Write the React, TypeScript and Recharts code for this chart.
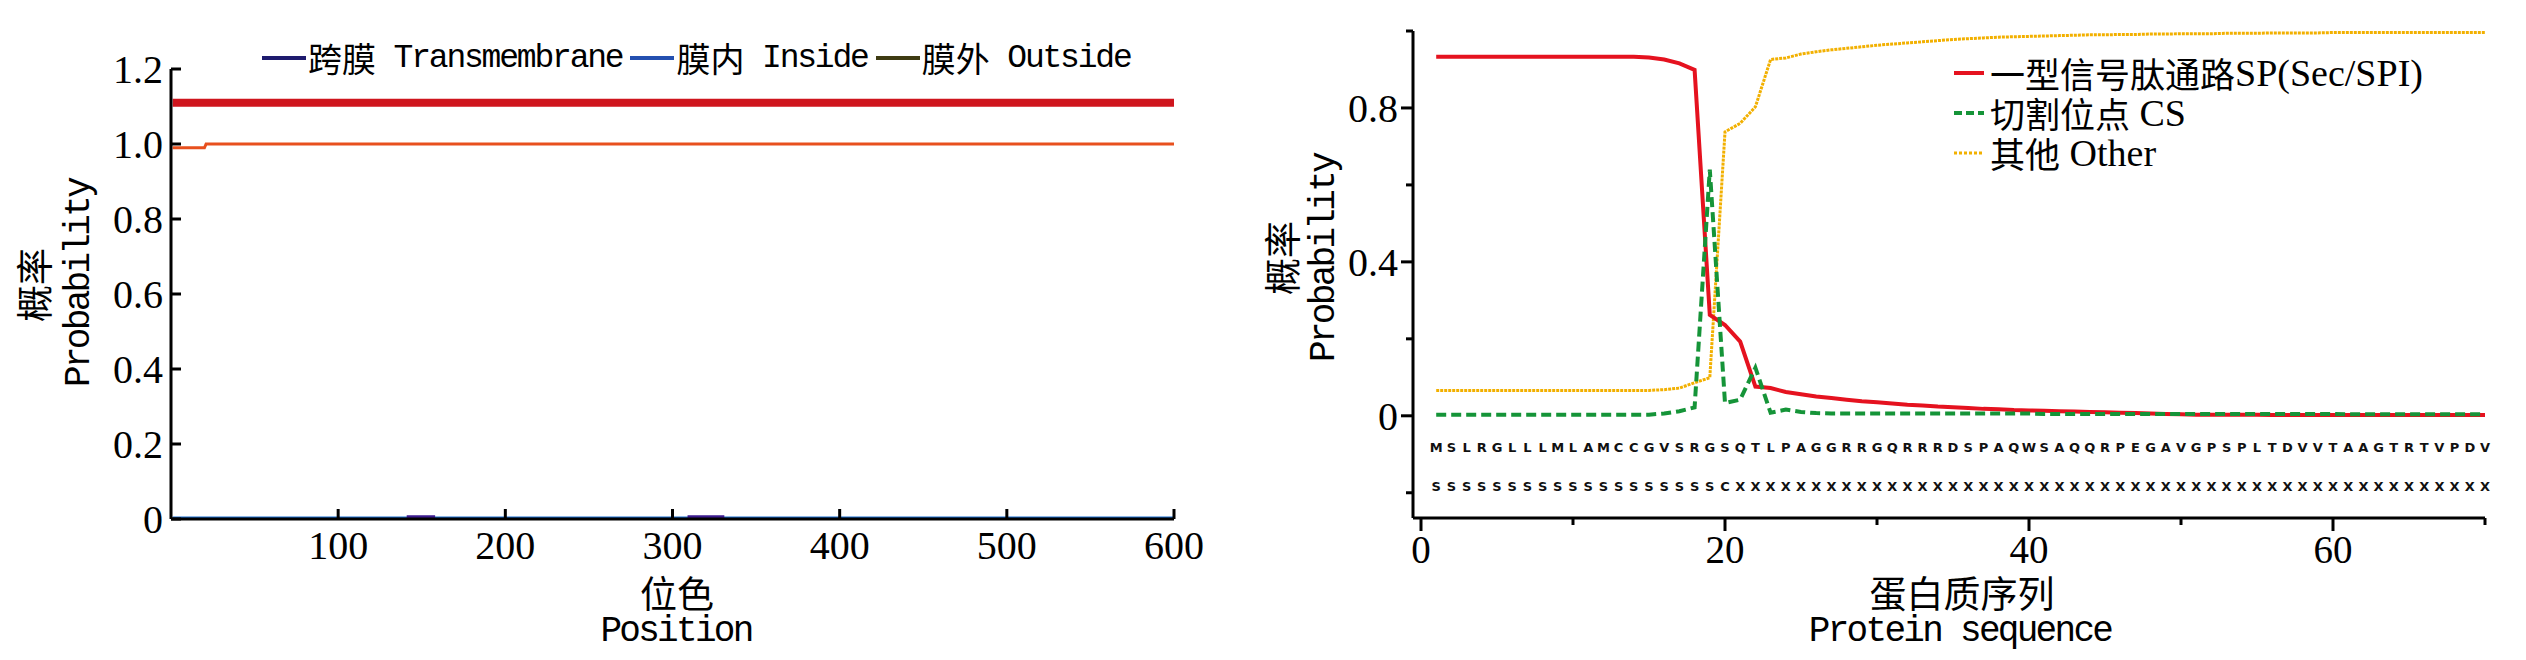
import { ComposedChart, Line, LineChart, XAxis, YAxis } from "recharts";

// left panel: topology probabilities, breakpoints
const TOP_BAR_POS = [1, 600];
const TOP_BAR_VAL = [1.11, 1.11];
const OUTSIDE_POS = [1, 20, 21, 600];
const OUTSIDE_VAL = [0.99, 0.99, 1.0, 1.0];
const INSIDE_POS = [1, 600];
const INSIDE_VAL = [0.004, 0.004];
const TM_POS = [141, 158, 230, 309, 331];
const TM_VAL = [0.006, 0.006, null, 0.006, 0.006];
const LEFT_X_TICKS = [100, 200, 300, 400, 500, 600];
const LEFT_Y_TICKS = [0, 0.2, 0.4, 0.6, 0.8, 1.0, 1.2];

const LEFT_LEGEND = [
  { cn: "跨膜", en: "Transmembrane", color: "#1e1b6e" },
  { cn: "膜内", en: "Inside", color: "#2450b0" },
  { cn: "膜外", en: "Outside", color: "#3e3b12" },
];

// right panel: signal peptide prediction per residue
const SEQUENCE = "MSLRGLLLMLAMCCGVSRGSQTLPAGGRRGQRRRDSPAQWSAQQRPEGAVGPSPLTDVVTAAGTRTVPDV".split("");
const SEQ_LABELS = ("SSSSSSSSSSSSSSSSSSS" + "C" + "XXXXXXXXXX" + "XXXXXXXXXX" + "XXXXXXXXXX" + "XXXXXXXXXX" + "XXXXXXXXXX").split("");

const SP = [
  0.933, 0.933, 0.933, 0.933, 0.933, 0.933, 0.933, 0.933, 0.933, 0.933,
  0.933, 0.933, 0.933, 0.933, 0.931, 0.926, 0.916, 0.899, 0.262, 0.236,
  0.193, 0.076, 0.072, 0.062, 0.056, 0.05, 0.046, 0.042, 0.038, 0.035,
  0.032, 0.029, 0.027, 0.024, 0.022, 0.02, 0.018, 0.017, 0.015, 0.014,
  0.013, 0.012, 0.011, 0.01, 0.009, 0.008, 0.007, 0.006, 0.005, 0.004,
  0.003, 0.003, 0.003, 0.003, 0.003, 0.002, 0.002, 0.002, 0.002, 0.002,
  0.002, 0.002, 0.002, 0.002, 0.002, 0.002, 0.002, 0.002, 0.002, 0.002,
];
const CS = [
  0.003, 0.003, 0.003, 0.003, 0.003, 0.003, 0.003, 0.003, 0.003, 0.003,
  0.003, 0.003, 0.003, 0.003, 0.003, 0.006, 0.012, 0.022, 0.64, 0.033,
  0.042, 0.125, 0.008, 0.016, 0.01, 0.007, 0.006, 0.006, 0.006, 0.006,
  0.006, 0.006, 0.006, 0.006, 0.006, 0.006, 0.006, 0.006, 0.006, 0.006,
  0.005, 0.005, 0.005, 0.005, 0.005, 0.005, 0.005, 0.005, 0.005, 0.005,
  0.005, 0.005, 0.005, 0.005, 0.005, 0.005, 0.005, 0.005, 0.005, 0.005,
  0.004, 0.004, 0.004, 0.004, 0.004, 0.004, 0.004, 0.004, 0.004, 0.004,
];
const OTHER = [
  0.066, 0.066, 0.066, 0.066, 0.066, 0.066, 0.066, 0.066, 0.066, 0.066,
  0.066, 0.066, 0.066, 0.066, 0.066, 0.068, 0.072, 0.086, 0.099, 0.738,
  0.76, 0.803, 0.926, 0.93, 0.94, 0.946, 0.951, 0.955, 0.959, 0.963,
  0.966, 0.969, 0.972, 0.975, 0.978, 0.98, 0.982, 0.984, 0.985, 0.986,
  0.987, 0.988, 0.989, 0.99, 0.99, 0.991, 0.991, 0.992, 0.992, 0.993,
  0.993, 0.993, 0.994, 0.994, 0.994, 0.995, 0.995, 0.995, 0.995, 0.996,
  0.996, 0.996, 0.996, 0.996, 0.996, 0.996, 0.996, 0.996, 0.996, 0.996,
];
const RIGHT_X_TICKS = [0, 10, 20, 30, 40, 50, 60, 70];
const RIGHT_X_LABELED = [0, 20, 40, 60];
const RIGHT_Y_TICKS = [-0.2, 0, 0.2, 0.4, 0.6, 0.8, 1.0];
const RIGHT_Y_LABELED = [0, 0.4, 0.8];

const RIGHT_LEGEND = [
  { cn: "一型信号肽通路", en: "SP(Sec/SPI)", color: "#e5121f", dash: "", width: 4 },
  { cn: "切割位点", en: " CS", color: "#159438", dash: "8 4", width: 4 },
  { cn: "其他", en: " Other", color: "#f2b000", dash: "3 2", width: 3 },
];

// where the two sequence rows sit, in y units of the right panel
const SEQ_ROW_1 = -0.083;
const SEQ_ROW_2 = -0.184;

const SERIF = '"Liberation Serif", "Times New Roman", serif';
const MONO = '"Liberation Mono", "DejaVu Sans Mono", monospace';
const CJK = '"Noto Sans CJK SC", sans-serif';

const pts = (xs: number[], ys: (number | null)[]) => xs.map((x, i) => ({ pos: x, v: ys[i] }));

const rightData = SEQUENCE.map((aa, i) => ({
  pos: i + 1,
  sp: SP[i],
  cs: CS[i],
  other: OTHER[i],
  aa,
  lab: SEQ_LABELS[i],
}));

const axisLine = { stroke: "#000", strokeWidth: 3 };

function LeftXTick({ x, y, payload }: any) {
  return (
    <g>
      <line x1={x} x2={x} y1={y} y2={y - 10} stroke="#000" strokeWidth={3} />
      <text x={x} y={y + 40} textAnchor="middle" fontFamily={SERIF} fontSize={40} fill="#000">
        {payload.value}
      </text>
    </g>
  );
}

function LeftYTick({ x, y, payload }: any) {
  const v = payload.value;
  return (
    <g>
      <line x1={x} x2={x + 10} y1={y} y2={y} stroke="#000" strokeWidth={3} />
      <text x={x - 8} y={y + 14} textAnchor="end" fontFamily={SERIF} fontSize={40} fill="#000">
        {v === 0 ? "0" : v.toFixed(1)}
      </text>
    </g>
  );
}

function RightXTick({ x, y, payload }: any) {
  const major = RIGHT_X_LABELED.includes(payload.value);
  return (
    <g>
      <line x1={x} x2={x} y1={y} y2={y + (major ? 13 : 7)} stroke="#000" strokeWidth={3} />
      {major && (
        <text x={x} y={y + 45} textAnchor="middle" fontFamily={SERIF} fontSize={39} fill="#000">
          {payload.value}
        </text>
      )}
    </g>
  );
}

function RightYTick({ x, y, payload }: any) {
  const v = payload.value;
  const major = RIGHT_Y_LABELED.some((t) => Math.abs(t - v) < 1e-6);
  return (
    <g>
      <line x1={x - (major ? 12 : 7)} x2={x} y1={y} y2={y} stroke="#000" strokeWidth={3} />
      {major && (
        <text x={x - 15} y={y + 14} textAnchor="end" fontFamily={SERIF} fontSize={40} fill="#000">
          {v === 0 ? "0" : v.toFixed(1)}
        </text>
      )}
    </g>
  );
}

const letter = (key: "aa" | "lab") => (p: any) => (
  <text
    key={`${key}-${p.index}`}
    x={p.cx}
    y={p.cy}
    dy="0.36em"
    textAnchor="middle"
    fontFamily='"DejaVu Sans", "Liberation Sans", sans-serif'
    fontWeight="bold"
    fontSize={13}
    fill="#111"
  >
    {p.payload[key]}
  </text>
);

function Title({ x, y, rotate, children }: any) {
  return (
    <div
      style={{
        position: "absolute",
        left: x,
        top: y,
        transform: `translate(-50%, -50%)${rotate ? " rotate(-90deg)" : ""}`,
        whiteSpace: "nowrap",
        lineHeight: 1,
        color: "#000",
      }}
    >
      {children}
    </div>
  );
}

const cjkStyle = { fontFamily: CJK, fontSize: 37 };
const monoStyle = { fontFamily: MONO, fontSize: 36, letterSpacing: -2.7 };

export default function App() {
  return (
    <div style={{ position: "absolute", left: 0, top: 0, width: 2526, height: 660, background: "#fff", overflow: "hidden" }}>
      <div style={{ position: "absolute", left: 0, top: 0 }}>
        <LineChart width={1250} height={660} margin={{ top: 69, right: 76, bottom: 81, left: 71 }}>
          <XAxis
            dataKey="pos"
            type="number"
            domain={[0, 600]}
            ticks={LEFT_X_TICKS}
            interval={0}
            height={60}
            axisLine={axisLine}
            tickLine={false}
            tickSize={0}
            tickMargin={0}
            tick={(p: any) => <LeftXTick {...p} />}
          />
          <YAxis
            type="number"
            domain={[0, 1.2]}
            ticks={LEFT_Y_TICKS}
            interval={0}
            width={100}
            axisLine={axisLine}
            tickLine={false}
            tickSize={0}
            tickMargin={0}
            tick={(p: any) => <LeftYTick {...p} />}
          />
          <Line data={pts(TOP_BAR_POS, TOP_BAR_VAL)} dataKey="v" stroke="#cf151d" strokeWidth={8} dot={false} isAnimationActive={false} />
          <Line data={pts(OUTSIDE_POS, OUTSIDE_VAL)} dataKey="v" stroke="#e8501e" strokeWidth={3} dot={false} isAnimationActive={false} />
          <Line data={pts(INSIDE_POS, INSIDE_VAL)} dataKey="v" stroke="#1b6fd0" strokeWidth={2} dot={false} isAnimationActive={false} />
          <Line data={pts(TM_POS, TM_VAL)} dataKey="v" stroke="#3b1a8e" strokeWidth={3} dot={false} connectNulls={false} isAnimationActive={false} />
        </LineChart>
      </div>

      <div style={{ position: "absolute", left: 1250, top: 0 }}>
        <ComposedChart width={1276} height={660} data={rightData} margin={{ top: 31, right: 41, bottom: 82, left: 63 }}>
          <XAxis
            dataKey="pos"
            type="number"
            domain={[0, 70]}
            ticks={RIGHT_X_TICKS}
            interval={0}
            padding={{ left: 8, right: 0 }}
            height={60}
            axisLine={axisLine}
            tickLine={false}
            tickSize={0}
            tickMargin={0}
            tick={(p: any) => <RightXTick {...p} />}
          />
          <YAxis
            type="number"
            domain={[-0.25, 1]}
            ticks={RIGHT_Y_TICKS}
            interval={0}
            padding={{ top: 0, bottom: 6 }}
            width={100}
            axisLine={axisLine}
            tickLine={false}
            tickSize={0}
            tickMargin={0}
            tick={(p: any) => <RightYTick {...p} />}
          />
          <Line dataKey="other" stroke="#f2b000" strokeWidth={3} strokeDasharray="3 1" dot={false} isAnimationActive={false} />
          <Line dataKey="sp" stroke="#e5121f" strokeWidth={4} dot={false} isAnimationActive={false} />
          <Line dataKey="cs" stroke="#159438" strokeWidth={4} strokeDasharray="10 5" dot={false} isAnimationActive={false} />
          <Line dataKey={() => SEQ_ROW_1} stroke="none" dot={letter("aa")} activeDot={false} isAnimationActive={false} />
          <Line dataKey={() => SEQ_ROW_2} stroke="none" dot={letter("lab")} activeDot={false} isAnimationActive={false} />
        </ComposedChart>
      </div>

      {/* left legend */}
      <div style={{ position: "absolute", left: 262, top: 58, transform: "translateY(-50%)", display: "flex", alignItems: "center", whiteSpace: "nowrap", lineHeight: 1 }}>
        {LEFT_LEGEND.map((it) => (
          <div key={it.en} style={{ display: "flex", alignItems: "center", marginRight: 8 }}>
            <span style={{ display: "inline-block", width: 44, height: 4, background: it.color, marginRight: 2 }} />
            <span style={{ fontFamily: CJK, fontSize: 34 }}>{it.cn}</span>
            <span style={{ fontFamily: MONO, fontSize: 33, letterSpacing: -2.2, whiteSpace: "pre" }}>{" " + it.en}</span>
          </div>
        ))}
      </div>

      {/* right legend */}
      <div style={{ position: "absolute", left: 1954, top: 53, lineHeight: 1 }}>
        {RIGHT_LEGEND.map((it) => (
          <div key={it.cn} style={{ display: "flex", alignItems: "center", height: 40, whiteSpace: "pre" }}>
            <svg width={30} height={10} style={{ marginRight: 6 }}>
              <line x1={0} x2={30} y1={5} y2={5} stroke={it.color} strokeWidth={it.width} strokeDasharray={it.dash || undefined} />
            </svg>
            <span style={{ fontFamily: CJK, fontSize: 35, lineHeight: "36px" }}>{it.cn}</span>
            <span style={{ fontFamily: SERIF, fontSize: 38, lineHeight: "36px" }}>{it.en}</span>
          </div>
        ))}
      </div>

      {/* axis titles */}
      <Title x={677} y={592}><span style={cjkStyle}>位色</span></Title>
      <Title x={676} y={632}><span style={monoStyle}>Position</span></Title>
      <Title x={33} y={285} rotate><span style={cjkStyle}>概率</span></Title>
      <Title x={80} y={283} rotate><span style={monoStyle}>Probability</span></Title>

      <Title x={1962} y={592}><span style={cjkStyle}>蛋白质序列</span></Title>
      <Title x={1960} y={632}><span style={monoStyle}>Protein sequence</span></Title>
      <Title x={1281} y={258} rotate><span style={cjkStyle}>概率</span></Title>
      <Title x={1325} y={258} rotate><span style={monoStyle}>Probability</span></Title>
    </div>
  );
}
